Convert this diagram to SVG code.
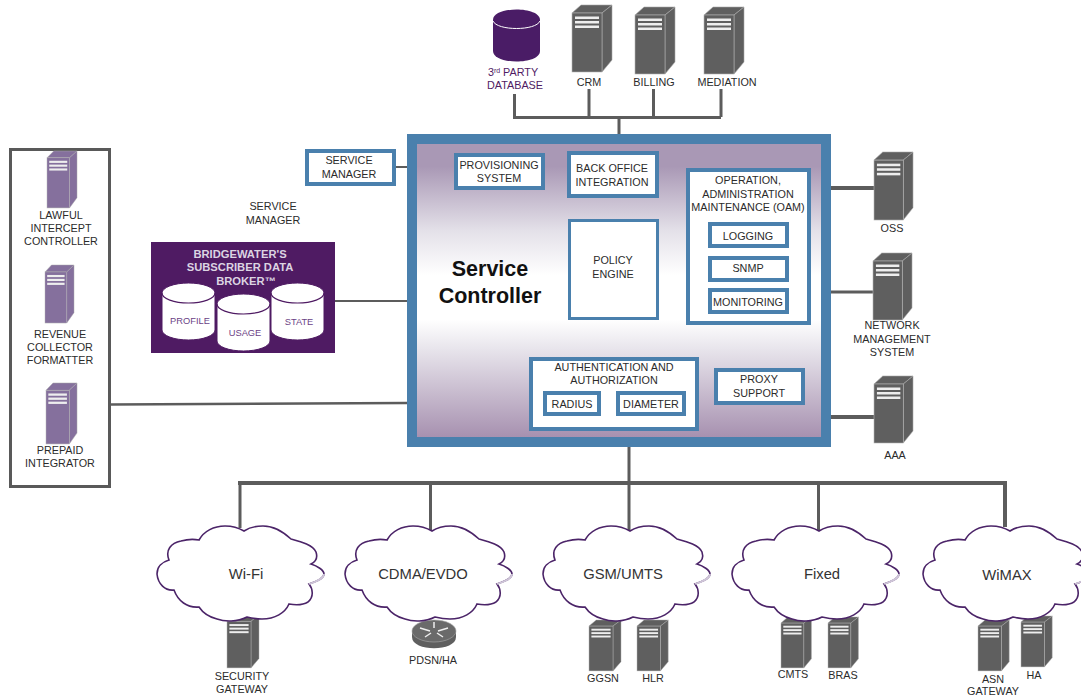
<svg xmlns="http://www.w3.org/2000/svg" width="1081" height="698" viewBox="0 0 1081 698">
<style>
text{font-family:"Liberation Sans",Arial,sans-serif;font-size:10.8px;fill:#2b2b2b;text-anchor:middle}
.gray{color:#5f5f5f}.pur{color:#85709d}
.box{fill:#fff;stroke:#4a80ad;stroke-width:4}
.thin{stroke-width:3}
.cloud{fill:#fff;stroke:#4b2468;stroke-width:1.6}
.cl{font-size:14.8px;fill:#333}
.conn{stroke:#5c5c5c;fill:none}
.cyl{fill:#fff;stroke:#4f1b63;stroke-width:1}
.cyltext{font-size:9.3px;fill:#6b3f86}
.dbt{fill:#dcd4e2;font-weight:bold;font-size:11.2px}
.title{font-size:21.5px;font-weight:bold;fill:#111}
</style>
<defs>
<linearGradient id="bg" gradientUnits="userSpaceOnUse" x1="0" y1="143" x2="0" y2="437">
<stop offset="0" stop-color="#a998b5"/><stop offset="0.08" stop-color="#a998b5"/><stop offset="0.3" stop-color="#e4e1e9"/><stop offset="0.45" stop-color="#fff"/><stop offset="0.6" stop-color="#fff"/><stop offset="0.7" stop-color="#e8e5ec"/><stop offset="1" stop-color="#a791b0"/>
</linearGradient>
<g id="srv">
<polygon points="0,8 9,0 40,0 30,8" fill="currentColor" stroke="#a9a9a9" stroke-width="0.6"/>
<polygon points="30,8 40,0 40,55 30,67" fill="currentColor" stroke="#a9a9a9" stroke-width="0.6"/>
<rect x="0" y="8" width="30" height="59" fill="currentColor" stroke="#b5b5b5" stroke-width="0.6"/>
<rect x="3" y="11.5" width="24" height="2.5" fill="#eee"/>
<rect x="3" y="16" width="24" height="2.5" fill="#eee"/>
<rect x="3" y="20.5" width="24" height="2.5" fill="#eee"/>
</g>
<g id="cloudp">
<path class="cloud" d="M87 4C93 0 100-1 106-1C117-1 125 4 134 12C145 15 156 18 159 25C161 31 158 35 154 37C160 39 167 43 167 47C167 52 158 55 152 57C156 62 157 70 151 75C146 78 138 78 132 77C128 86 118 92 105 92C98 92 94 91 90 90C80 95 68 95 60 92C52 90 46 86 42 80C30 81 21 74 17 63C8 64 1 57 0 47C0 40 5 35 12 33C8 23 14 16 24 14C31 12 37 12 42 13C47 4 57-1 68-1C75-1 82 1 87 4Z"/>
<path d="M167 47C167 52 158 55 152 57" fill="none" stroke="#cfc6d8" stroke-width="1.8"/>
</g>
<g id="cylinder">
<path class="cyl" d="M0 10A26.5 10 0 0 1 53 10V47A26.5 10 0 0 1 0 47Z"/>
<path d="M0 10A26.5 10 0 0 0 53 10" fill="none" stroke="#4f1b63" stroke-width="1.2"/>
</g>
</defs>
<rect width="1081" height="698" fill="#fff"/>
<g id="connectors" class="conn">
<path stroke-width="3" d="M514.5 94V117.500H721M589 89V117M653.500 89V117M721 89V117M619 117V134"/>
<path stroke-width="2" d="M396 167H407M335 301H407"/>
<path stroke-width="2.5" d="M111 404.500L407 403"/>
<path stroke-width="4" d="M831 188H874M831 417H874"/>
<path stroke-width="3" d="M831 292H873"/>
<path stroke-width="3" d="M629 447V527M240 483V528M430.500 483V530M629 483V530M818.500 483V530"/>
<path stroke-width="4" d="M238 483H1007M1005 483V527"/>
</g>
<g id="database"><path d="M493 20C493 6 540 6 540 20V51C540 65 493 65 493 51Z" fill="#4a1c66"/><path d="M493 21C497 31 536 31 540 21" fill="none" stroke="#fff" stroke-width="1"/><text x="513" y="76" style="fill:#4f1b63">3<tspan dy="-3" style="font-size:7px;fill:#4f1b63">rd</tspan><tspan dy="3" style="fill:#4f1b63"> PARTY</tspan></text><text x="515" y="89" style="fill:#4f1b63">DATABASE</text></g>
<g id="crm" class="gray"><use href="#srv" transform="translate(572 5)"/><text x="589" y="86">CRM</text></g>
<g id="billing" class="gray"><use href="#srv" transform="translate(635 7)"/><text x="654" y="86">BILLING</text></g>
<g id="mediation" class="gray"><use href="#srv" transform="translate(704 7)"/><text x="727" y="86">MEDIATION</text></g>
<g id="intercept-group"><rect x="10.5" y="149.500" width="99" height="337" fill="#fff" stroke="#595959" stroke-width="3"/></g>
<g id="lawful" class="pur"><use href="#srv" transform="translate(47 151) scale(.75 .85)"/><text x="61" y="219">LAWFUL</text><text x="61" y="232">INTERCEPT</text><text x="61" y="245">CONTROLLER</text></g>
<g id="revenue" class="pur"><use href="#srv" transform="translate(45 265) scale(.725 .866)"/><text x="60" y="338">REVENUE</text><text x="60" y="351">COLLECTOR</text><text x="60" y="364">FORMATTER</text></g>
<g id="prepaid" class="pur"><use href="#srv" transform="translate(46 383) scale(.775 .91)"/><text x="60" y="454">PREPAID</text><text x="60" y="467">INTEGRATOR</text></g>
<g id="service-manager-box"><rect class="box" x="307" y="151" width="87" height="33"/><text x="349" y="164">SERVICE</text><text x="349" y="178">MANAGER</text></g>
<g id="service-manager-label"><text x="273" y="210">SERVICE</text><text x="273" y="224">MANAGER</text></g>
<g id="data-broker"><rect x="151" y="242" width="184" height="111" fill="#4f1b63"/>
<text class="dbt" x="240" y="258">BRIDGEWATER'S</text><text class="dbt" x="240" y="271">SUBSCRIBER DATA</text><text class="dbt" x="246" y="285">BROKER™</text>
<use href="#cylinder" transform="translate(162 283)"/><use href="#cylinder" transform="translate(217 294)"/><use href="#cylinder" transform="translate(271 283)"/>
<text class="cyltext" x="190" y="324">PROFILE</text><text class="cyltext" x="245" y="336">USAGE</text><text class="cyltext" x="299" y="325">STATE</text></g>
<g id="service-controller"><rect x="412" y="139" width="414" height="303" fill="url(#bg)" stroke="#4a80ad" stroke-width="10"/>
<text class="title" x="490" y="276">Service</text><text class="title" x="490" y="303">Controller</text></g>
<g id="provisioning"><rect class="box" x="456" y="155" width="87" height="33"/><text x="499" y="169">PROVISIONING</text><text x="499" y="182">SYSTEM</text></g>
<g id="back-office"><rect class="box" x="569" y="153" width="88" height="43"/><text x="612" y="172">BACK OFFICE</text><text x="612" y="186">INTEGRATION</text></g>
<g id="policy"><rect class="box thin" x="569.5" y="220.500" width="88" height="98"/><text x="613" y="264">POLICY</text><text x="613" y="278">ENGINE</text></g>
<g id="oam"><rect class="box" x="688" y="170" width="121" height="153"/><text x="748" y="184">OPERATION,</text><text x="748" y="198">ADMINISTRATION</text><text x="748" y="211">MAINTENANCE (OAM)</text></g>
<g id="logging"><rect class="box" x="710" y="224" width="77" height="22"/><text x="748" y="240">LOGGING</text></g>
<g id="snmp"><rect class="box" x="710" y="258" width="77" height="22"/><text x="748" y="272">SNMP</text></g>
<g id="monitoring"><rect class="box" x="710" y="290" width="77" height="22"/><text x="748" y="306">MONITORING</text></g>
<g id="auth"><rect class="box" x="531" y="359" width="166" height="70"/><text x="614" y="371">AUTHENTICATION AND</text><text x="614" y="384">AUTHORIZATION</text></g>
<g id="radius"><rect class="box" x="545" y="393" width="54" height="21"/><text x="572" y="408">RADIUS</text></g>
<g id="diameter"><rect class="box" x="618" y="393" width="66" height="21"/><text x="651" y="408">DIAMETER</text></g>
<g id="proxy"><rect class="box" x="716" y="370" width="87" height="33"/><text x="759" y="383">PROXY</text><text x="759" y="397">SUPPORT</text></g>
<g id="oss" class="gray"><use href="#srv" transform="translate(874 152) scale(.975 1.015)"/><text x="892" y="232">OSS</text></g>
<g id="nms" class="gray"><use href="#srv" transform="translate(873 253) scale(.975 1)"/><text x="892" y="329">NETWORK</text><text x="892" y="343">MANAGEMENT</text><text x="892" y="356">SYSTEM</text></g>
<g id="aaa" class="gray"><use href="#srv" transform="translate(874 376) scale(.975 1)"/><text x="895" y="459">AAA</text></g>
<g id="wifi" class="gray"><use href="#srv" transform="translate(227 615) scale(.8 .79)"/><use href="#cloudp" transform="translate(157 527)"/><text class="cl" x="246" y="579">Wi-Fi</text><text x="242" y="680">SECURITY</text><text x="242" y="693">GATEWAY</text></g>
<g id="cdma"><path d="M412 631V637C412 652 456 652 456 637V631Z" fill="#5f5f5f"/><ellipse cx="434" cy="631" rx="22" ry="11" fill="#6a6a6a" stroke="#aaa" stroke-width="0.6"/><path d="M420 628L430 631M448 628L438 631M425 637L431 633M443 637L437 633M434 622V628" stroke="#eee" stroke-width="1.5" fill="none"/><use href="#cloudp" transform="translate(345 527)"/><text class="cl" x="423" y="579">CDMA/EVDO</text><text x="433" y="664">PDSN/HA</text></g>
<g id="gsm" class="gray"><use href="#srv" transform="translate(589 620) scale(.8 .76)"/><use href="#srv" transform="translate(637 620) scale(.78 .76)"/><use href="#cloudp" transform="translate(543 527)"/><text class="cl" x="623" y="579">GSM/UMTS</text><text x="603" y="682">GGSN</text><text x="653" y="682">HLR</text></g>
<g id="fixed" class="gray"><use href="#srv" transform="translate(781 617) scale(.76 .76)"/><use href="#srv" transform="translate(828 617) scale(.76 .76)"/><use href="#cloudp" transform="translate(732 527)"/><text class="cl" x="822" y="579">Fixed</text><text x="793" y="678">CMTS</text><text x="843" y="679">BRAS</text></g>
<g id="wimax" class="gray"><use href="#srv" transform="translate(978 620) scale(.78 .76)"/><use href="#srv" transform="translate(1021 616) scale(.78 .76)"/><use href="#cloudp" transform="translate(923 527)"/><text class="cl" x="1007" y="580">WiMAX</text><text x="993" y="683">ASN</text><text x="993" y="695">GATEWAY</text><text x="1034" y="679">HA</text></g>
</svg>
